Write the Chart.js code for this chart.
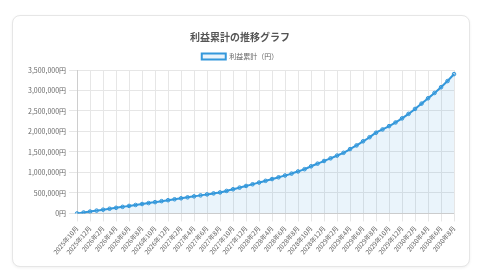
<!DOCTYPE html>
<html lang="ja">
<head>
<meta charset="utf-8">
<script src="https://cdn.jsdelivr.net/npm/chart.js@4.4.1/dist/chart.umd.min.js"></script>
<style>
  html, body { margin: 0; padding: 0; background: #fff; }
  .card {
    position: absolute; left: 12px; top: 15px; width: 456px; height: 250px;
    border: 1px solid #e6e6e6; border-radius: 8px; background: #fff;
    box-shadow: 0 1px 3px rgba(0,0,0,0.06);
  }
  .wrap { position: absolute; left: 8px; top: 8px; width: 442px; height: 235px; }
</style>
</head>
<body>
<div class="card"><div class="wrap"><canvas id="profitChart"></canvas></div></div>
<script>
// 月ラベル
const months = [
  "2025年10月","2025年11月","2025年12月",
  "2026年1月","2026年2月","2026年3月","2026年4月","2026年5月","2026年6月",
  "2026年7月","2026年8月","2026年9月","2026年10月","2026年11月","2026年12月",
  "2027年1月","2027年2月","2027年3月","2027年4月","2027年5月","2027年6月",
  "2027年7月","2027年8月","2027年9月","2027年10月","2027年11月","2027年12月",
  "2028年1月","2028年2月","2028年3月","2028年4月","2028年5月","2028年6月",
  "2028年7月","2028年8月","2028年9月","2028年10月","2028年11月","2028年12月",
  "2029年1月","2029年2月","2029年3月","2029年4月","2029年5月","2029年6月",
  "2029年7月","2029年8月","2029年9月","2029年10月","2029年11月","2029年12月",
  "2030年1月","2030年2月","2030年3月","2030年4月","2030年5月","2030年6月",
  "2030年7月","2030年8月"
];

// 利益累計（円）
const cumulativeProfit = [
  0, 23000, 46000,
  69000, 92000, 115000, 138000, 161000, 184000,
  207000, 230000, 253000, 276000, 300000, 323000,
  346000, 370000, 393000, 417000, 441000, 465000,
  489000, 513000, 550000, 590000, 630000, 671000,
  712000, 754000, 796000, 839000, 882000, 926000,
  972000, 1025000, 1080000, 1150000, 1215000, 1280000,
  1345000, 1412000, 1480000, 1570000, 1660000, 1760000,
  1860000, 1970000, 2050000, 2130000, 2220000, 2320000,
  2430000, 2550000, 2680000, 2810000, 2940000, 3080000,
  3230000, 3400000
];

const titleText = "利益累計の推移グラフ";
const seriesLabel = "利益累計（円）";
const yMax = 3500000;
const yStep = 500000;

const fontFamily = "'Noto Sans CJK JP', 'Noto Sans', sans-serif";
const blue = "#3498db";

let ctx = document.getElementById("profitChart").getContext("2d");

let chart = new Chart(ctx, {
  type: "line",
  data: {
    labels: months,
    datasets: [{
      label: seriesLabel,
      data: cumulativeProfit,
      borderColor: blue,
      backgroundColor: "rgba(52,152,219,0.1)",
      borderWidth: 2,
      fill: true,
      tension: 0.3,
      pointRadius: 1.8,
      pointBorderWidth: 1,
      pointBorderColor: blue,
      pointBackgroundColor: "rgba(52,152,219,0.3)"
    }]
  },
  options: {
    responsive: true,
    maintainAspectRatio: false,
    animation: false,
    layout: { padding: { left: 4, right: 8, top: 0, bottom: 0 } },
    plugins: {
      title: {
        display: true,
        text: titleText,
        color: "#555",
        font: { family: fontFamily, size: 10, weight: "bold" },
        padding: { top: 7, bottom: 7 }
      },
      legend: {
        display: true,
        labels: {
          color: "#666",
          boxWidth: 24,
          boxHeight: 6,
          padding: 3,
          font: { family: fontFamily, size: 7 }
        }
      },
      tooltip: { enabled: false }
    },
    scales: {
      x: {
        grid: { color: "#e6e6e6" },
        ticks: {
          color: "#666",
          font: { family: fontFamily, size: 6.5 },
          minRotation: 50,
          maxRotation: 50,
          autoSkip: false,
          callback: function(v, i) { return i % 2 === 0 ? this.getLabelForValue(v) : null; }
        }
      },
      y: {
        min: 0,
        max: yMax,
        grid: { color: "#e6e6e6" },
        ticks: {
          stepSize: yStep,
          color: "#666",
          font: { family: fontFamily, size: 7 },
          callback: function(v) { return v.toLocaleString("ja-JP") + "円"; }
        }
      }
    }
  }
});
</script>
</body>
</html>
